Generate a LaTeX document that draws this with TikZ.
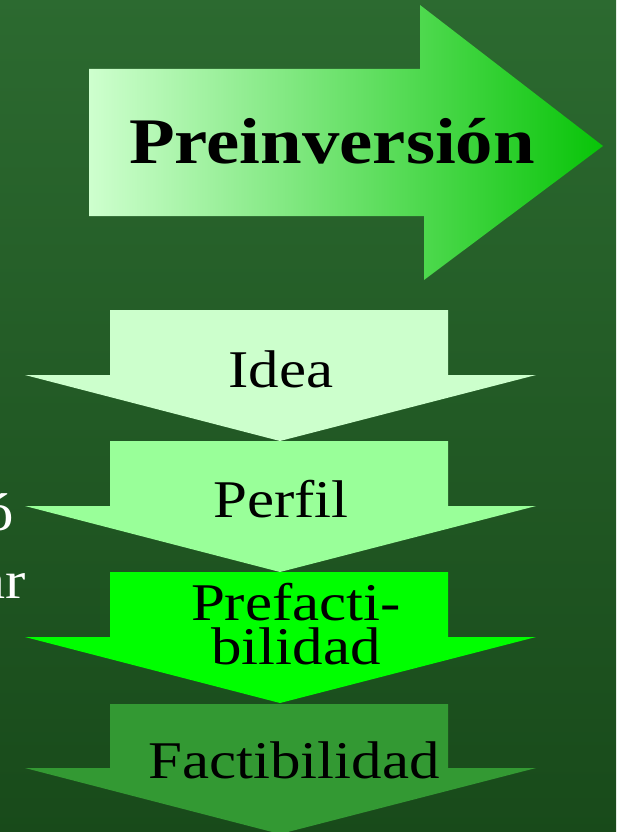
\documentclass[tikz,border=0pt]{standalone}
\usepackage{fontspec}
\setmainfont{Liberation Serif}
\newfontfamily\wideserif[FakeStretch=1.15]{Liberation Serif}
\usetikzlibrary{shadings}
\definecolor{bgtop}{RGB}{44,106,48}
\definecolor{bgbot}{RGB}{24,74,26}
\definecolor{ideac}{RGB}{204,255,204}
\definecolor{perfc}{RGB}{153,255,153}
\definecolor{prefc}{RGB}{0,255,0}
\definecolor{factc}{RGB}{51,153,51}
\definecolor{prel}{RGB}{206,255,206}
\definecolor{prer}{RGB}{8,196,8}
\tikzset{
  lbl/.style={anchor=base, inner sep=0pt, text=black, font=\wideserif\fontsize{53}{44}\selectfont},
  sidetxt/.style={anchor=base east, inner sep=0pt, text=white, font=\wideserif\fontsize{53}{44}\selectfont},
  titletxt/.style={anchor=base, inner sep=0pt, text=black, font=\wideserif\bfseries\fontsize{65}{70}\selectfont}
}
\newcommand\dnarr[4]{%
  \fill[#4] (110,#1) -- (448,#1) -- (448,#2) -- (536,#2) -- (280,#3) -- (25,#2) -- (110,#2) -- cycle;}
\begin{document}
\begin{tikzpicture}[x=1pt,y=-1pt]
\useasboundingbox (0,0) rectangle (616,832);
\begin{scope}
\clip (0,0) rectangle (616,832);
\shade[top color=bgtop, bottom color=bgbot] (-5,-5) rectangle (621,837);
% big right arrow
\shade[left color=prel, right color=prer]
  (89,69) -- (420,69) -- (420,5) -- (603,146) -- (424,280) -- (424,216) -- (89,216) -- cycle;
\node[titletxt] (pre) at (332,163) {Preinversión};
% down arrows
\dnarr{310}{375}{441}{ideac}
\dnarr{441}{506}{572}{perfc}
\dnarr{572}{637}{703}{prefc}
\dnarr{704}{768}{834}{factc}
\node[lbl] (idea) at (281,387) {Idea};
\node[lbl] (perfil) at (281,517) {Perfil};
\node[lbl, align=center] (prefact) at (296,664) {Prefacti-\\bilidad};
\node[lbl] (fact) at (294,778) {Factibilidad};
% clipped side text
\node[sidetxt] (s1) at (14,530) {ó};
\node[sidetxt] (s2) at (26,598) {ar};
\end{scope}
\end{tikzpicture}
\end{document}
